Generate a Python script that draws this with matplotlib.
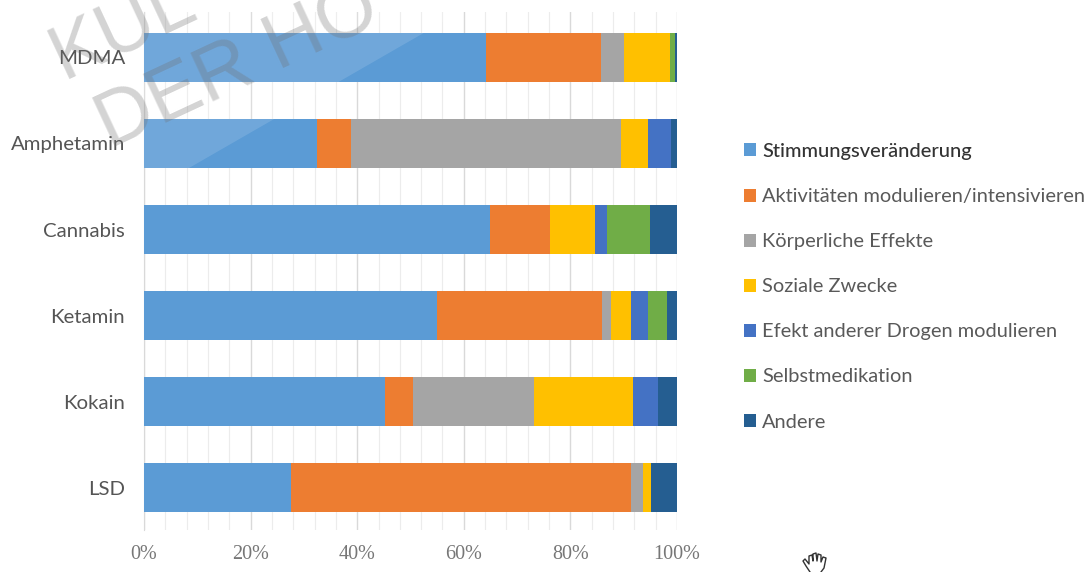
import matplotlib
matplotlib.use('Agg')
import matplotlib.pyplot as plt
from matplotlib.lines import Line2D
from matplotlib.patches import Polygon
from matplotlib.ticker import MultipleLocator

W=1088
H=572

drugs=['MDMA','Amphetamin','Cannabis','Ketamin','Kokain','LSD']
stimmung=[64.2,32.4,64.9,55.0,45.2,27.5]
aktivitaeten=[21.5,6.5,11.3,30.9,5.3,63.8]
koerperlich=[4.3,50.6,0,1.7,22.7,2.3]
sozial=[8.7,5.0,8.4,3.8,18.5,1.6]
andere_drogen=[0,4.4,2.3,3.2,4.7,0]
selbstmedikation=[0.9,0,8.0,3.6,0,0]
andere=[0.4,1.1,5.1,1.8,3.6,4.8]

series=[stimmung,aktivitaeten,koerperlich,sozial,andere_drogen,selbstmedikation,andere]
names=['Stimmungsveränderung','Aktivitäten modulieren/intensivieren','Körperliche Effekte','Soziale Zwecke','Efekt anderer Drogen modulieren','Selbstmedikation','Andere']
colors=['#5b9bd5','#ed7d31','#a5a5a5','#ffc000','#4472c4','#70ad47','#255e91']
x_ticks=[0,20,40,60,80,100]

fig=plt.figure(figsize=(W/100,H/100),dpi=100)
ax=fig.add_axes([144/W,1-530/H,533/W,518/H])

# stacked bars
left=[0]*len(drugs)
bars=[]
for values,name,color in zip(series,names,colors):
    b=ax.barh(drugs,values,left=left,height=0.57,color=color,label=name,zorder=3)
    bars.append(b)
    left=[l+v for l,v in zip(left,values)]

ax.set_xlim(0,100)
ax.set_ylim(5.494,-0.529)
ax.xaxis.set_major_locator(MultipleLocator(20))
ax.xaxis.set_minor_locator(MultipleLocator(4))
ax.grid(axis='x',which='major',color='#d9d9d9',linewidth=1,zorder=0)
ax.grid(axis='x',which='minor',color='#ececec',linewidth=0.8,zorder=0)
ax.set_xticks(x_ticks)
ax.set_xticklabels([f'{t}%' for t in x_ticks],fontfamily='Liberation Serif',fontsize=14.5,color='#777777')
ax.tick_params(axis='x',which='both',length=0,pad=11)
ax.tick_params(axis='y',length=0,pad=13.5,labelsize=14.7,labelcolor='#555555')
for label in ax.get_yticklabels():
    label.set_fontfamily('Lato')
for side in ['top','right','bottom']:
    ax.spines[side].set_visible(False)
ax.spines['left'].set_color('#d9d9d9')

# legend
leg=fig.legend(handles=bars,loc='upper left',bbox_to_anchor=(744/W,1-143/H),frameon=False,
    prop={'family':'Lato','size':14.4},handlelength=0.62,handleheight=0.62,handletextpad=0.3,
    labelspacing=1.405,borderaxespad=0,borderpad=0)
for t in leg.get_texts():
    t.set_color('#595959')
leg.get_texts()[0].set_color('#333333')
leg.get_texts()[0].set_fontweight('medium')

# lighter diagonal band from the watermark over the upper bars
band=[(144,0),(481,0),(189,168),(144,168)]
fig.add_artist(Polygon([(x/W,1-y/H) for x,y in band],closed=True,transform=fig.transFigure,
    facecolor='white',edgecolor='none',alpha=0.13,zorder=5))

# watermark text
fig.text(63/W,1-79/H,'KUL',fontsize=56,rotation=25,rotation_mode='anchor',color='#707070',alpha=0.3,
    family='Liberation Sans',ha='left',va='baseline',zorder=6)
fig.text(110/W,1-149/H,'DER HO',fontsize=56,rotation=25,rotation_mode='anchor',color='#707070',alpha=0.3,
    family='Liberation Sans',ha='left',va='baseline',zorder=6)

# mouse cursor, no installed font has this hand
hand_x=[810,806,803,805,809,809,812,813,813,816,817,818,821,821,823,826,824,821]
hand_y=[572,566,561,559,564,556,555,561,554,553,561,554,555,562,557,558,568,572]
fig.add_artist(Line2D([x/W for x in hand_x],[1-y/H for y in hand_y],transform=fig.transFigure,
    color='#333333',linewidth=1))

plt.savefig('out.png',dpi=100)
